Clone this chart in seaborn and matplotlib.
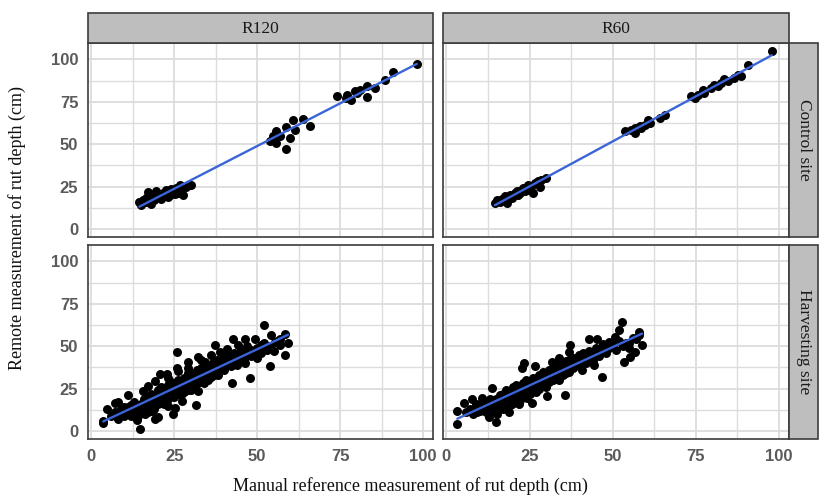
import numpy as np
import pandas as pd
import matplotlib
matplotlib.use("Agg")
import matplotlib.pyplot as plt
from matplotlib.patches import Rectangle
import seaborn as sns

sns.set_theme(style="white")

# ---- data: manual (x) vs remote (y) rut depth, cm ----
r120_control_x = [14.5, 15.5, 16.5, 17.5, 18.0, 19.5, 18.5, 20.5, 21.5, 22.6, 23.6, 24.6, 25.6, 26.6,
                  27.6, 28.6, 30.1, 21.0, 23.1, 15.0, 16.5, 19.0, 20.0, 22.0, 24.1, 26.1, 17.0, 18.0,
                  25.1, 26.6,
                  60.8, 63.8, 65.9, 58.8, 55.8, 56.8, 53.8, 55.8, 59.8, 61.3, 58.8, 54.8,
                  98.1, 91.0, 88.5, 85.5, 83.0, 83.0, 81.0, 80.0, 77.0, 74.0, 78.4, 76.8, 79.4]
r120_control_y = [15.6, 17.2, 18.2, 19.2, 14.8, 22.1, 20.1, 19.2, 21.1, 23.1, 20.1, 22.1, 24.1, 26.0,
                  20.1, 25.0, 26.0, 17.7, 18.8, 14.2, 15.6, 17.2, 20.6, 19.2, 23.4, 21.4, 21.5, 18.2,
                  20.6, 23.1,
                  64.5, 65.0, 61.0, 60.3, 57.6, 54.6, 51.7, 50.7, 53.6, 58.6, 47.1, 54.6,
                  97.6, 92.5, 88.0, 83.2, 77.9, 84.2, 82.2, 80.2, 79.3, 78.3, 76.3, 77.3, 81.2]

r60_control_x = [14.6, 15.6, 16.6, 17.6, 18.1, 19.1, 20.1, 21.1, 22.1, 23.1, 24.1, 25.1, 26.1, 26.6,
                 28.1, 28.6, 30.1, 17.1, 19.6, 21.6, 23.6, 25.6, 15.1, 16.1, 20.6, 22.6, 24.6, 27.6,
                 53.6, 55.6, 56.6, 58.1, 59.6, 60.6, 58.6, 64.1, 65.6, 56.6, 61.1,
                 97.8, 90.6, 88.6, 86.6, 84.6, 82.6, 81.6, 79.6, 77.6, 75.6, 74.6, 77.1, 80.6,
                 83.6, 87.6, 73.6]
r60_control_y = [15.4, 16.2, 17.6, 19.2, 15.4, 20.2, 19.2, 22.1, 21.1, 24.1, 25.0, 23.1, 21.1, 27.0,
                 25.0, 29.0, 30.0, 17.2, 18.2, 20.1, 22.1, 25.0, 17.2, 15.6, 21.1, 23.1, 26.0, 28.0,
                 57.6, 58.6, 56.6, 60.5, 61.5, 64.5, 59.6, 65.5, 67.5, 59.6, 62.5,
                 104.9, 97.0, 90.1, 89.0, 87.2, 86.0, 84.2, 83.2, 80.3, 79.3, 77.3, 82.2, 85.2,
                 88.2, 91.0, 78.3]

r120_harvest_x = [3.6, 3.6, 4.6, 8.1, 11.1, 9.1, 13.2, 14.7, 13.7, 19.2, 20.2, 24.7, 25.2, 25.7,
                  20.7, 22.7, 31.7, 29.2, 42.3, 40.3, 47.8, 52.1, 53.8, 58.3, 58.3, 59.3, 54.3, 49.3,
                  46.3, 42.8, 37.2, 38.8, 32.2, 29.2, 25.7, 33.2, 49.8, 49.8, 55.3, 56.8, 43.3, 46.3,
                  35.2, 38.2, 32.2, 27.2, 23.2, 18.2, 16.2, 11.1, 7.1, 15.7, 17.2, 19.2, 23.2, 26.2,
                  29.2, 34.2, 36.2, 40.8, 44.3, 47.3, 51.3,
                  6, 7, 8, 9, 10, 10, 11, 12, 12, 13, 13, 14, 14, 15, 15, 16, 16, 16, 17, 17, 17,
                  18, 18, 18, 19, 19, 19, 20, 20, 20, 21, 21, 21, 22, 22, 22, 23, 23, 23, 24, 24, 24,
                  25, 25, 25, 26, 26, 26, 27, 27, 27, 28, 28, 28, 29, 29, 29, 30, 30, 30, 31, 31, 31,
                  32, 32, 32, 33, 33, 33, 34, 34, 34, 35, 35, 35, 36, 36, 36, 37, 37, 37, 38, 38, 38,
                  39, 39, 40, 40, 40, 41, 41, 42, 42, 43, 43, 44, 44, 45, 45, 46, 46, 47, 47, 48, 48,
                  49, 50, 51, 52, 53, 54, 55, 56, 57,
                  11.5, 14.5, 16.5, 18.5, 20.5, 22.5, 24.5, 26.5, 28.5, 30.5, 32.5, 34.5, 36.5,
                  38.5, 40.5, 42.5, 44.5, 21.5, 27.5, 33.5, 39.5, 45.5, 19.5, 31.5]
r120_harvest_y = [6.0, 4.5, 12.8, 17.2, 21.1, 9.9, 10.9, 1.2, 6.4, 7.0, 7.9, 9.9, 13.4, 46.3,
                  33.5, 33.5, 15.3, 24.4, 28.3, 38.0, 31.2, 62.6, 38.0, 44.8, 57.4, 51.6, 56.4, 54.5,
                  54.5, 54.5, 50.6, 46.7, 43.8, 40.9, 37.0, 41.9, 46.7, 42.8, 52.5, 50.6, 44.8, 39.9,
                  30.2, 33.1, 23.4, 17.6, 14.7, 11.8, 9.9, 13.8, 16.7, 23.4, 26.4, 29.3, 31.2, 35.1,
                  37.0, 40.9, 44.8, 48.6, 50.6, 48.6, 50.6,
                  9, 11, 7, 13, 9, 14, 11, 15, 9, 12, 17, 14, 9, 16, 12, 19, 13, 17, 15, 20, 11,
                  18, 22, 14, 17, 21, 13, 19, 24, 16, 22, 18, 26, 20, 24, 16, 23, 27, 19, 21, 25, 29,
                  24, 20, 27, 26, 22, 30, 25, 29, 21, 27, 31, 23, 26, 30, 34, 28, 32, 24, 30, 34, 27,
                  31, 36, 28, 33, 29, 37, 32, 36, 28, 34, 38, 31, 35, 39, 32, 36, 41, 33, 38, 42, 35,
                  37, 41, 39, 43, 36, 40, 44, 38, 42, 41, 46, 43, 39, 44, 48, 42, 46, 45, 50, 44, 48,
                  47, 49, 46, 52, 48, 50, 47, 53, 54,
                  13, 15, 16, 20, 21, 22, 25, 27, 28, 30, 33, 33, 35, 37, 38, 40, 43, 23, 28, 35,
                  40, 47, 21, 31]

r60_harvest_x = [3.3, 3.3, 5.3, 7.8, 9.3, 12.8, 14.8, 15.3, 18.8, 21.8, 25.8, 30.3, 35.8, 22.8,
                 23.3, 13.8, 31.8, 37.3, 39.3, 42.8, 45.3, 46.8, 48.8, 51.8, 52.8, 50.8, 54.8, 53.3,
                 55.3, 56.8, 58.8, 57.8, 57.8, 44.3, 40.8, 34.3, 28.8, 24.3, 19.8, 17.8, 26.8, 33.8,
                 36.8, 10.8, 8.8,
                 6, 7, 8, 9, 10, 10, 11, 12, 12, 13, 13, 14, 14, 15, 15, 16, 16, 16, 17, 17, 17,
                 18, 18, 18, 19, 19, 19, 20, 20, 20, 21, 21, 21, 22, 22, 22, 23, 23, 23, 24, 24, 24,
                 25, 25, 25, 26, 26, 26, 27, 27, 27, 28, 28, 28, 29, 29, 29, 30, 30, 30, 31, 31, 31,
                 32, 32, 32, 33, 33, 33, 34, 34, 34, 35, 35, 35, 36, 36, 36, 37, 37, 37, 38, 38, 38,
                 39, 39, 40, 40, 40, 41, 41, 42, 42, 43, 43, 44, 44, 45, 45, 46, 46, 47, 47, 48, 48,
                 49, 50, 51, 52, 53, 54, 55, 56, 57,
                 11.5, 14.5, 16.5, 18.5, 20.5, 22.5, 24.5, 26.5, 28.5, 30.5, 32.5, 34.5, 36.5,
                 38.5, 40.5, 42.5, 44.5, 21.5, 27.5, 33.5, 39.5, 45.5, 19.5, 31.5]
r60_harvest_y = [11.8, 4.1, 16.7, 18.6, 10.9, 7.9, 5.0, 9.9, 10.9, 15.7, 16.7, 20.5, 20.9, 37.0,
                 39.9, 25.4, 40.9, 50.6, 41.9, 54.5, 54.5, 31.6, 52.5, 59.3, 64.1, 55.4, 51.6, 40.9,
                 43.8, 46.7, 50.6, 58.3, 56.4, 39.0, 36.0, 32.2, 26.4, 19.6, 15.7, 21.5, 38.0, 42.8,
                 46.7, 19.6, 15.7,
                 11, 13, 10, 14, 12, 16, 13, 17, 11, 15, 19, 16, 12, 19, 15, 21, 14, 18, 17, 22, 13,
                 20, 24, 16, 19, 23, 15, 21, 26, 18, 23, 20, 27, 22, 26, 18, 25, 28, 21, 23, 27, 30,
                 26, 22, 29, 28, 24, 31, 27, 30, 23, 29, 33, 25, 28, 32, 35, 30, 34, 26, 32, 36, 29,
                 33, 37, 30, 35, 31, 38, 34, 38, 30, 36, 40, 33, 37, 41, 34, 38, 42, 35, 40, 43, 37,
                 39, 43, 41, 45, 38, 42, 46, 40, 44, 43, 47, 45, 41, 46, 49, 44, 48, 47, 51, 46, 50,
                 49, 51, 48, 53, 50, 52, 49, 55, 54,
                 16, 18, 20, 21, 24, 25, 27, 29, 31, 33, 35, 36, 38, 40, 42, 43, 45, 25, 30, 36,
                 41, 45, 22, 34]

methods = ["R120", "R60"]
sites = ["Control site", "Harvesting site"]
panel_data = {
    ("Control site", "R120"): (r120_control_x, r120_control_y),
    ("Control site", "R60"): (r60_control_x, r60_control_y),
    ("Harvesting site", "R120"): (r120_harvest_x, r120_harvest_y),
    ("Harvesting site", "R60"): (r60_harvest_x, r60_harvest_y),
}
frames = []
for (site, method), (xs, ys) in panel_data.items():
    frames.append(pd.DataFrame({"manual": xs, "remote": ys, "site": site, "method": method}))
df = pd.concat(frames, ignore_index=True)

ticks = [0, 25, 50, 75, 100]
tick_labels = ["0", "25", "50", "75", "100"]

# ---- layout ----
W, H = 820, 497
fig = plt.figure(figsize=(W / 100, H / 100), dpi=100)
fig.patch.set_facecolor("white")

col_px = [(88, 433), (443, 789)]
row_px = [(43, 237), (245, 439)]
strip_top = (13, 43)
strip_right = (789, 818)

def fx(px):
    return px / W

def fy(py):
    return 1 - py / H

serif = ["Liberation Serif", "DejaVu Serif"]
tick_font = dict(family="Liberation Sans", weight="bold", size=12, color="#5a5a5a")
strip_fc = "#bebebe"
frame_col = "#3c3c3c"
grid_col = "#dcdcdc"

for r, site in enumerate(sites):
    for c, method in enumerate(methods):
        x0, x1 = col_px[c]
        y0, y1 = row_px[r]
        ax = fig.add_axes([fx(x0), fy(y1), fx(x1) - fx(x0), fy(y0) - fy(y1)])
        sub = df[(df.site == site) & (df.method == method)]
        sns.regplot(data=sub, x="manual", y="remote", ax=ax, ci=None,
                    scatter_kws=dict(s=42, color="black", linewidths=0, alpha=1, zorder=3),
                    line_kws=dict(color="#3a64d8", lw=1.7, zorder=4))
        ax.set_xlim(-1.0, 103.0)
        ax.set_ylim(-4.8, 109.7)
        ax.set_xticks(ticks)
        ax.set_yticks(ticks)
        ax.set_xticks([12.5, 37.5, 62.5, 87.5], minor=True)
        ax.set_yticks([12.5, 37.5, 62.5, 87.5], minor=True)
        ax.grid(True, which="major", color=grid_col, lw=1.3, zorder=0)
        ax.grid(True, which="minor", color=grid_col, lw=1.0, zorder=0)
        ax.set_axisbelow(True)
        for sp in ax.spines.values():
            sp.set_color(frame_col)
            sp.set_linewidth(1.2)
        ax.set_xlabel("")
        ax.set_ylabel("")
        ax.tick_params(which="minor", length=0)
        ax.tick_params(which="major", length=4, width=1.0, color="#555555", pad=3)
        if c == 0:
            ax.set_yticklabels(tick_labels, fontdict=tick_font)
        else:
            ax.tick_params(axis="y", which="major", left=False, labelleft=False)
        if r == 1:
            ax.set_xticklabels(tick_labels, fontdict=tick_font)
        else:
            ax.tick_params(axis="x", which="major", bottom=False, labelbottom=False)

        # facet strips
        if r == 0:
            fig.patches.append(Rectangle((fx(x0), fy(strip_top[1])), fx(x1) - fx(x0),
                                         fy(strip_top[0]) - fy(strip_top[1]),
                                         transform=fig.transFigure, facecolor=strip_fc,
                                         edgecolor=frame_col, lw=1.2, zorder=1))
            fig.text(fx((x0 + x1) / 2), fy((strip_top[0] + strip_top[1]) / 2) - 0.002, method,
                     ha="center", va="center", family=serif, size=12.5, color="#1a1a1a")
        if c == 1:
            fig.patches.append(Rectangle((fx(strip_right[0]), fy(y1)),
                                         fx(strip_right[1]) - fx(strip_right[0]),
                                         fy(y0) - fy(y1), transform=fig.transFigure,
                                         facecolor=strip_fc, edgecolor=frame_col, lw=1.2,
                                         zorder=1))
            fig.text(fx((strip_right[0] + strip_right[1]) / 2) + 0.001, fy((y0 + y1) / 2), site,
                     ha="center", va="center", rotation=-90, family=serif, size=12.5,
                     color="#1a1a1a")

fig.text(fx(410), fy(486), "Manual reference measurement of rut depth (cm)",
         ha="center", va="center", family=serif, size=13, color="#111111")
fig.text(fx(17), fy(228), "Remote measurement of rut depth (cm)",
         ha="center", va="center", rotation=90, family=serif, size=13, color="#111111")

fig.savefig("out.png", dpi=100, facecolor="white")
